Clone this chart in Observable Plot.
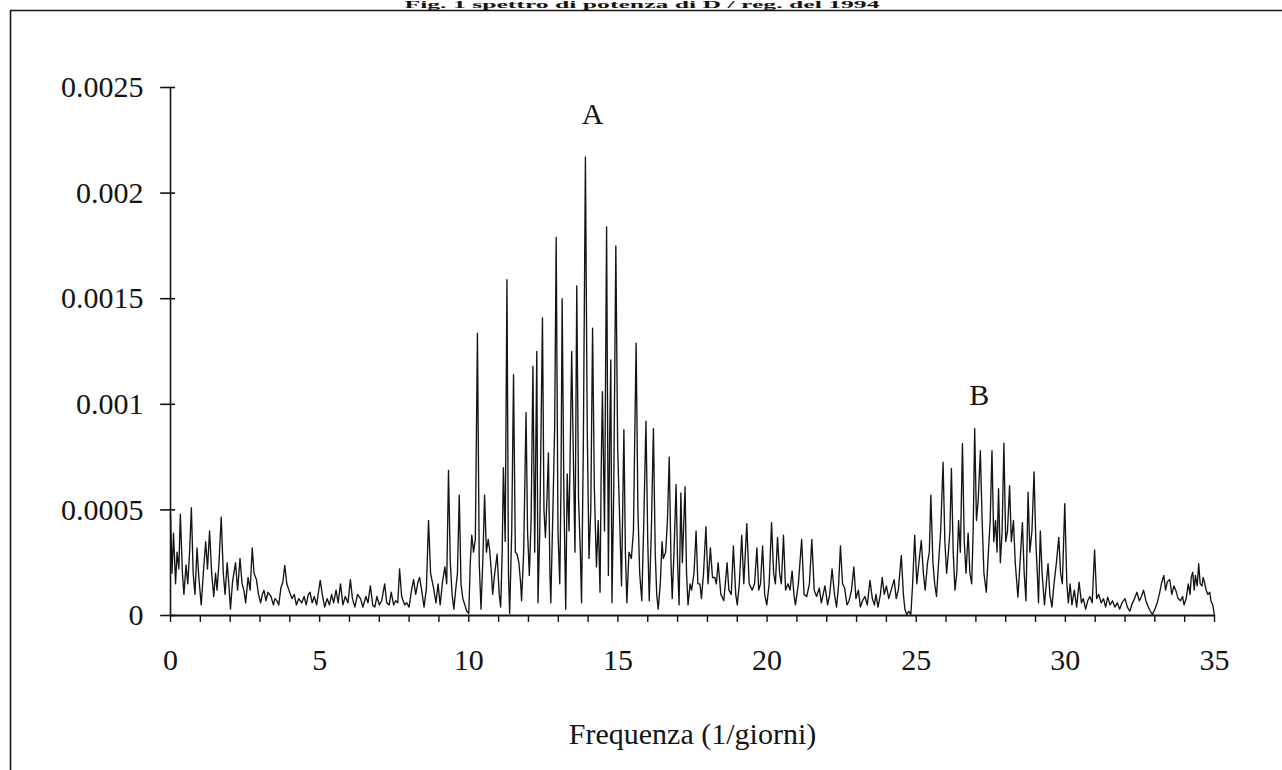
<!DOCTYPE html>
<html><head><meta charset="utf-8">
<script src="https://cdn.jsdelivr.net/npm/d3@7"></script>
<script src="https://cdn.jsdelivr.net/npm/@observablehq/plot@0.6"></script>
<style>
html,body{margin:0;padding:0;background:#fff;}
#wrap{position:relative;width:1282px;height:770px;overflow:hidden;}
#chart{position:absolute;left:0;top:0;}
#frame{position:absolute;left:0;top:0;}
</style></head><body>
<div id="wrap"><div id="chart"></div><svg id="frame" width="1282" height="770"></svg></div>
<script>
// Power values are in units of 1e-4
const POWER_UNIT = 1e-4;
const titleText = "Fig. 1 spettro di potenza di D / reg. del 1994";
const xLabel = "Frequenza (1/giorni)";
const xTicks = [0, 5, 10, 15, 20, 25, 30, 35];
const xMinorTicks = [0,1,2,3,4,5,6,7,8,9,10,11,12,13,14,15,16,17,18,19,20,21,22,23,24,25,26,27,28,29,30,31,32,33,34,35];
const yTicks = [0, 0.0005, 0.001, 0.0015, 0.002, 0.0025];
const yTickLabels = ["0", "0.0005", "0.001", "0.0015", "0.002", "0.0025"];
const peakNames = ["A", "B"];
const peakFreq = [14.15, 27.11];
const peakLabelPower = [0.002375, 0.001042];

const lowBand = [[0.00,4.8],[0.05,2.0],[0.10,3.9],[0.17,1.5],[0.22,3.0],[0.28,2.2],[0.33,4.8],[0.40,2.0],[0.45,1.0],[0.52,2.4],[0.58,1.5],[0.64,3.0],[0.70,5.1],[0.76,2.0],[0.82,1.0],[0.89,3.2],[0.95,1.8],[1.03,0.5],[1.10,2.0],[1.18,3.5],[1.24,2.2],[1.31,4.0],[1.38,2.0],[1.45,0.9],[1.51,2.0],[1.56,1.2],[1.63,2.6],[1.70,4.65],[1.77,2.0],[1.83,1.0],[1.90,2.5],[1.96,1.4],[2.01,0.3],[2.08,1.6],[2.18,2.5],[2.25,1.2],[2.33,2.7],[2.40,1.5],[2.46,1.2],[2.52,0.6],[2.60,1.8],[2.67,1.2],[2.74,3.2],[2.80,2.0],[2.88,1.7],[2.95,1.0],[3.02,0.6],[3.08,1.0],[3.13,1.2],[3.20,0.7],[3.27,1.1],[3.37,0.9],[3.45,0.5],[3.50,0.8],[3.57,0.7],[3.63,0.5],[3.70,1.3],[3.77,1.6],[3.83,2.37],[3.90,1.5],[3.97,1.2],[4.07,0.8],[4.15,1.0],[4.22,0.5],[4.30,0.8],[4.40,0.6],[4.48,0.9],[4.55,0.5],[4.62,1.0],[4.68,1.1],[4.75,0.6],[4.82,0.9],[4.90,0.5],[4.96,1.1],[5.02,1.66],[5.10,0.9],[5.17,0.4],[5.25,0.8],[5.33,0.5],[5.40,1.0],[5.47,0.6],[5.55,1.2],[5.62,0.6],[5.70,1.5],[5.78,0.5],[5.86,0.9],[5.95,0.6],[6.03,1.7],[6.10,0.8],[6.18,0.4],[6.27,1.0],[6.37,0.8],[6.45,0.4],[6.55,0.9],[6.62,0.6],[6.70,1.4],[6.78,0.5],[6.85,0.4],[6.92,0.9],[7.00,0.5],[7.08,0.7],[7.18,1.5],[7.25,0.6],[7.33,0.5],[7.40,1.1],[7.48,0.5],[7.55,0.7],[7.62,0.6],[7.68,2.2],[7.75,0.9],[7.85,0.5],[7.92,0.6],[8.00,0.4],[8.08,1.2],[8.15,1.7],[8.22,1.0],[8.30,1.6],[8.35,1.8],[8.42,1.2],[8.50,0.4],[8.58,1.3],[8.65,4.5],[8.72,2.0],[8.82,1.3],[8.90,0.6],[8.97,1.5],[9.04,0.5],[9.12,1.6],[9.20,2.3],[9.26,1.5]];

const peakABand = [[9.32,6.87],[9.38,2.5],[9.44,1.0],[9.50,0.3],[9.56,1.2],[9.62,2.0],[9.68,5.7],[9.74,1.5],[9.80,0.8],[9.87,0.5],[9.93,0.2],[10.00,0.1],[10.05,2.5],[10.10,3.8],[10.16,3.0],[10.22,3.6],[10.29,13.35],[10.35,2.5],[10.41,0.3],[10.47,2.6],[10.53,5.7],[10.59,3.0],[10.65,3.6],[10.70,3.1],[10.76,2.0],[10.80,1.0],[10.87,2.0],[10.95,2.9],[11.02,1.0],[11.07,0.4],[11.12,3.0],[11.16,7.0],[11.22,3.5],[11.28,15.9],[11.33,2.0],[11.37,0.1],[11.44,4.0],[11.50,11.4],[11.56,3.0],[11.62,2.9],[11.68,2.5],[11.74,1.5],[11.77,0.7],[11.84,3.0],[11.92,9.6],[11.97,4.0],[12.03,1.9],[12.09,4.5],[12.15,11.8],[12.21,3.0],[12.28,12.5],[12.32,0.6],[12.38,4.0],[12.47,14.1],[12.52,5.0],[12.57,3.7],[12.62,5.5],[12.67,7.7],[12.72,2.0],[12.75,0.6],[12.82,5.0],[12.88,9.0],[12.93,17.9],[12.99,4.0],[13.05,1.5],[13.09,6.0],[13.13,15.0],[13.19,5.5],[13.25,0.3],[13.30,6.7],[13.36,4.0],[13.45,12.5],[13.50,8.0],[13.56,3.0],[13.62,15.6],[13.68,5.5],[13.74,3.0],[13.78,0.6],[13.84,8.0],[13.91,21.7],[13.97,9.0],[14.03,2.7],[14.09,5.0],[14.15,13.6],[14.21,6.0],[14.28,2.3],[14.34,4.5],[14.40,1.1],[14.44,7.0],[14.48,10.6],[14.55,4.0],[14.62,18.4],[14.68,1.9],[14.72,8.0],[14.76,12.1],[14.80,0.6],[14.86,6.0],[14.93,17.5],[14.99,8.0],[15.05,5.0],[15.12,1.4],[15.16,5.0],[15.20,8.8],[15.25,3.0],[15.30,0.6],[15.37,3.0],[15.45,2.7],[15.52,4.0],[15.56,8.0],[15.61,12.9],[15.67,5.0],[15.73,2.0],[15.80,0.7],[15.86,4.0],[15.94,9.2],[16.00,3.5],[16.05,0.7],[16.12,4.0],[16.19,8.85],[16.25,3.0],[16.30,1.0],[16.35,0.3],[16.42,1.5],[16.48,3.5],[16.52,2.7],[16.60,3.0],[16.66,4.5],[16.72,7.5],[16.78,2.5],[16.82,0.8],[16.88,3.0],[16.95,6.2],[17.00,2.5],[17.05,0.5],[17.11,5.8],[17.16,2.5],[17.25,6.1],[17.30,2.0],[17.35,0.5],[17.42,1.5]];

const midBand = [[17.47,1.2],[17.55,2.0],[17.62,4.0],[17.68,1.5],[17.75,1.5],[17.80,0.8],[17.87,2.0],[17.95,4.2],[18.02,1.5],[18.10,3.2],[18.17,1.8],[18.25,1.8],[18.30,1.5],[18.36,2.5],[18.45,1.0],[18.55,0.7],[18.60,1.5],[18.66,2.5],[18.72,1.2],[18.80,1.0],[18.87,3.3],[18.95,1.0],[19.00,0.5],[19.07,1.5],[19.15,3.8],[19.22,1.5],[19.32,4.35],[19.40,1.5],[19.50,1.2],[19.58,1.5],[19.66,3.2],[19.72,1.2],[19.78,1.5],[19.85,3.3],[19.92,1.0],[19.99,0.5],[20.07,1.5],[20.15,4.4],[20.22,2.0],[20.28,1.5],[20.35,3.7],[20.42,2.0],[20.48,1.5],[20.55,3.8],[20.62,1.2],[20.70,1.5],[20.77,1.2],[20.84,2.1],[20.90,1.0],[20.95,0.5],[21.05,1.5],[21.16,3.6],[21.24,1.0],[21.33,0.9],[21.42,1.5],[21.50,3.6],[21.58,1.2],[21.66,0.9],[21.75,1.3],[21.82,0.6],[21.94,1.4],[22.03,0.5],[22.10,1.0],[22.18,2.2],[22.26,1.0],[22.33,0.4],[22.40,1.5],[22.46,3.3],[22.53,1.5],[22.60,1.3],[22.68,0.5],[22.75,0.7],[22.83,1.2],[22.91,2.3],[22.98,0.8],[23.06,1.2],[23.13,0.4],[23.20,0.7],[23.28,0.9],[23.36,0.5],[23.45,1.66],[23.53,0.8],[23.60,0.5],[23.65,1.0],[23.72,0.4],[23.80,1.0],[23.86,1.8],[23.93,1.0],[24.00,1.4],[24.08,0.8],[24.16,1.2],[24.26,1.7],[24.33,0.8],[24.40,1.2],[24.50,2.84],[24.57,1.0]];

const peakBBand = [[24.62,0.3],[24.68,0.05],[24.75,0.2],[24.82,0.05],[24.88,1.5],[24.95,3.8],[25.02,1.5],[25.09,2.5],[25.17,3.55],[25.24,2.0],[25.30,1.2],[25.38,2.5],[25.44,3.0],[25.49,5.7],[25.56,2.5],[25.62,1.5],[25.68,0.9],[25.75,2.5],[25.82,4.0],[25.90,7.26],[25.96,3.5],[26.02,2.0],[26.08,3.0],[26.13,4.0],[26.18,6.96],[26.24,3.0],[26.30,1.2],[26.36,2.0],[26.42,4.5],[26.48,3.0],[26.55,8.13],[26.61,3.5],[26.67,2.0],[26.74,3.9],[26.80,2.0],[26.86,1.5],[26.91,4.0],[26.96,8.84],[27.02,4.5],[27.08,5.5],[27.15,7.8],[27.21,4.5],[27.27,2.0],[27.35,1.1],[27.42,3.0],[27.48,4.5],[27.54,7.8],[27.60,3.5],[27.66,4.5],[27.71,3.0],[27.76,6.0],[27.82,2.5],[27.88,4.0],[27.94,8.16],[28.00,3.5],[28.06,4.0],[28.13,6.15],[28.19,3.5],[28.26,4.5],[28.32,2.5],[28.41,0.87],[28.48,2.5],[28.56,4.4],[28.62,2.0],[28.68,0.7],[28.75,5.84],[28.81,3.0],[28.88,4.0],[28.95,6.8],[29.01,3.5],[29.06,2.0],[29.10,0.6],[29.16,4.0],[29.22,2.0],[29.30,0.5],[29.36,1.5],[29.42,2.45],[29.48,1.0],[29.55,0.4],[29.62,1.5],[29.70,2.5],[29.78,3.7],[29.84,2.0],[29.90,1.5],[29.98,5.3]];

const highBand = [[30.05,1.5],[30.10,0.6],[30.16,1.5],[30.22,0.5],[30.30,1.2],[30.38,0.4],[30.46,1.58],[30.54,0.6],[30.60,0.8],[30.68,0.3],[30.75,0.7],[30.82,0.9],[30.90,0.6],[30.98,3.1],[31.05,0.8],[31.12,1.0],[31.20,0.6],[31.28,0.8],[31.35,0.4],[31.42,0.87],[31.50,0.5],[31.58,0.7],[31.66,0.4],[31.74,0.6],[31.82,0.3],[31.90,0.6],[32.00,0.8],[32.08,0.4],[32.16,0.2],[32.25,0.6],[32.32,0.8],[32.40,1.1],[32.48,0.7],[32.55,0.9],[32.62,1.2],[32.70,0.7],[32.78,0.4],[32.85,0.2],[32.92,0.05],[33.00,0.3],[33.08,0.6],[33.15,1.0],[33.22,1.5],[33.30,1.9],[33.36,1.2],[33.42,1.6],[33.50,1.7],[33.57,1.0],[33.64,1.4],[33.70,1.2],[33.78,0.8],[33.86,0.7],[33.93,0.9],[33.98,0.5],[34.05,0.8],[34.12,1.5],[34.18,1.0],[34.22,1.8],[34.27,2.05],[34.32,1.2],[34.36,1.9],[34.42,1.4],[34.47,2.45],[34.52,1.5],[34.58,1.4],[34.62,1.8],[34.66,1.6],[34.72,1.2],[34.78,1.0],[34.84,1.1],[34.88,0.7],[34.94,0.5],[35.00,0.0]];

const spectrum = [...lowBand, ...peakABand, ...midBand, ...peakBBand, ...highBand]
  .map(([f, p]) => ({f, p: p * POWER_UNIT}));
const peakLabels = peakNames.map((label, i) => ({label, f: peakFreq[i], p: peakLabelPower[i]}));

const FONT = '"Liberation Serif", "Times New Roman", serif';
const INK = "#141414";

const chart = Plot.plot({
  width: 1282,
  height: 770,
  marginLeft: 170,
  marginRight: 68,
  marginTop: 87,
  marginBottom: 155,
  style: {fontFamily: FONT, fontSize: "30px", color: INK, background: "transparent", overflow: "visible"},
  x: {domain: [0, 35]},
  y: {domain: [0, 0.0025]},
  marks: [
    Plot.line(spectrum, {x: "f", y: "p", stroke: INK, strokeWidth: 1.35}),
    Plot.ruleX([0], {y1: 0, y2: 0.0025, stroke: INK, strokeWidth: 1.6}),
    Plot.ruleY([0], {x1: 0, x2: 35, stroke: INK, strokeWidth: 2}),
    Plot.ruleY(yTicks, {y: d => d, x1: -0.33, x2: 0.17, stroke: INK, strokeWidth: 1.6}),
    Plot.axisY(yTicks, {tickSize: 0, tickPadding: 27, tickFormat: (d, i) => yTickLabels[i], label: null, fontSize: 30}),
    Plot.axisX(xMinorTicks, {tickSize: 7, tickFormat: () => "", label: null, strokeWidth: 1.4}),
    Plot.axisX(xTicks, {tickSize: 0, tickPadding: 33, tickFormat: d => String(d), fontSize: 30,
      label: xLabel, labelAnchor: "center", labelArrow: "none", labelOffset: 128}),
    Plot.text(peakLabels, {x: "f", y: "p", text: "label", fontSize: 30, fill: INK})
  ]
});
document.getElementById("chart").appendChild(chart);

// outer frame and figure title squeezed above the frame's top edge
const frame = d3.select("#frame");
frame.append("line").attr("x1", 10.5).attr("x2", 10.5).attr("y1", 10).attr("y2", 770)
  .attr("stroke", INK).attr("stroke-width", 1.6);
frame.append("line").attr("x1", 10).attr("x2", 1282).attr("y1", 10.5).attr("y2", 10.5)
  .attr("stroke", INK).attr("stroke-width", 1.6);
frame.append("text").attr("x", 642).attr("y", 7.5).attr("text-anchor", "middle")
  .attr("font-family", FONT).attr("font-size", 10).attr("font-weight", "bold").attr("fill", INK)
  .attr("textLength", 475).attr("lengthAdjust", "spacingAndGlyphs").text(titleText);
</script>
</body></html>
